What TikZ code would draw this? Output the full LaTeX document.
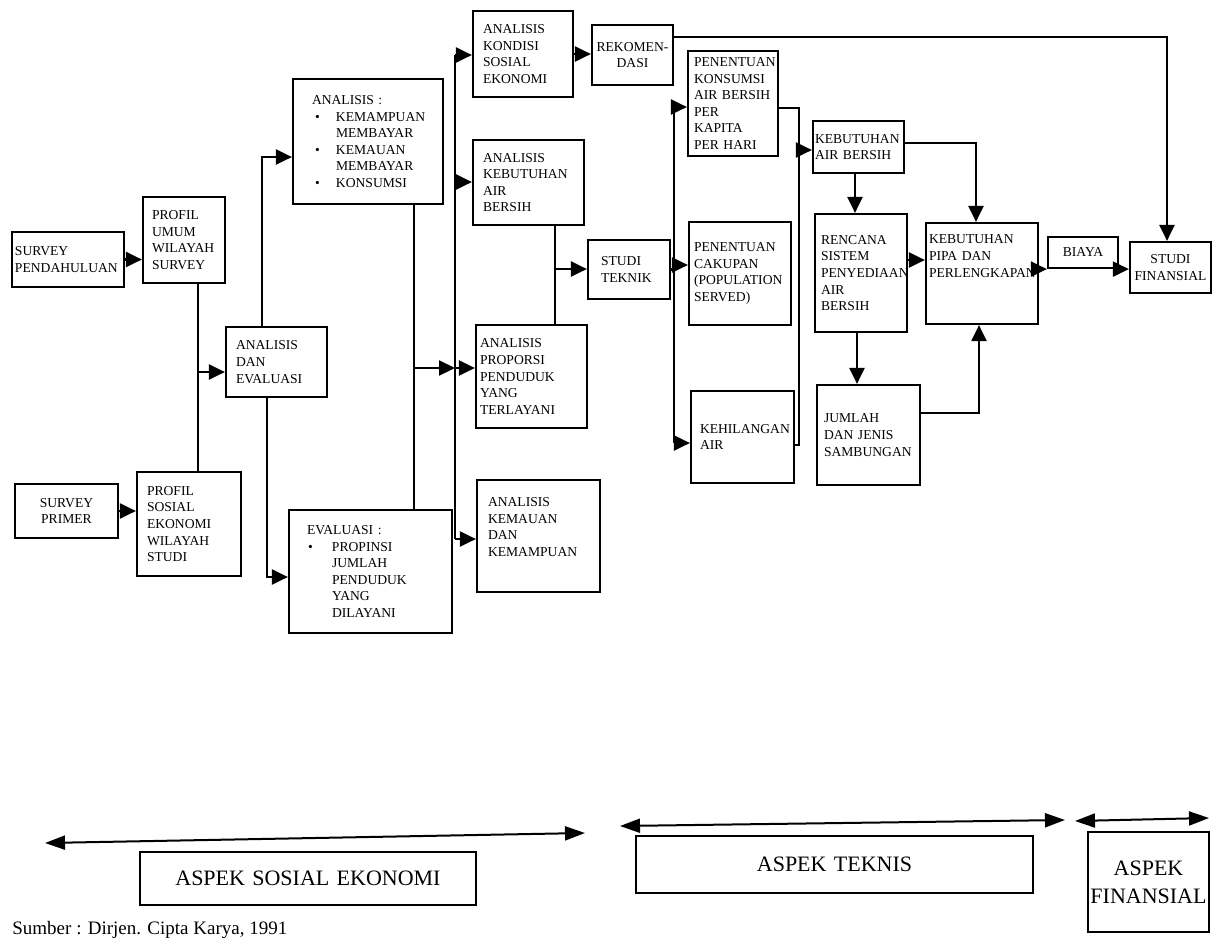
\documentclass[tikz,border=0pt]{standalone}
\usepackage{fontspec}
\setmainfont{Liberation Serif}
\usetikzlibrary{arrows.meta}
\lefthyphenmin=64
\newcommand\mybox[8]{%
 \pgfmathsetmacro\bw{(#5-#3)*0.5}%
 \pgfmathsetmacro\bh{(#6-#4)*0.5}%
 \pgfmathsetmacro\tw{(#5-#3)*0.5-2*#2}%
 \node[box,inner xsep=#2pt,minimum width=\bw pt,minimum height=\bh pt,text width=\tw pt,#7] (#1) at ({(#3+#5)/2},{(#4+#6)/2}) {#8};}
\begin{document}
\begin{tikzpicture}[x=0.5pt,y=-0.5pt,
  box/.style={draw, line width=1.1pt, inner ysep=1pt, font=\fontsize{6.8}{8.3}\selectfont, align=left},
  ln/.style={line width=1.1pt},
  arr/.style={line width=1.1pt, -{Triangle[length=8pt,width=7.5pt]}},
  darr/.style={line width=1pt, {Triangle[length=10pt,width=7pt]}-{Triangle[length=10pt,width=7pt]}},
  big/.style={font=\fontsize{11}{14}\selectfont, align=center, line width=0.8pt}]
\fill[white] (0,0) rectangle (1212,938);
\useasboundingbox (0,0) rectangle (1212,938);

% boxes
\mybox{sp}{1.5}{12}{232}{124}{287}{}{SURVEY\\PENDAHULUAN}
\mybox{pu}{4.5}{143}{197}{225}{283}{}{PROFIL\\UMUM\\WILAYAH\\SURVEY}
\mybox{ae}{5}{226}{327}{327}{397}{}{ANALISIS\\DAN\\EVALUASI}
\mybox{sprim}{2}{15}{484}{118}{538}{align=center}{SURVEY\\PRIMER}
\mybox{ps}{5}{137}{472}{241}{576}{}{PROFIL\\SOSIAL\\EKONOMI\\WILAYAH\\STUDI}
\mybox{an}{2}{293}{79}{443}{204}{}{\hspace*{7.5pt}ANALISIS~:\\
\hspace*{9pt}\makebox[10.5pt][l]{\textbullet}KEMAMPUAN\\
\hspace*{19.5pt}MEMBAYAR\\
\hspace*{9pt}\makebox[10.5pt][l]{\textbullet}KEMAUAN\\
\hspace*{19.5pt}MEMBAYAR\\
\hspace*{9pt}\makebox[10.5pt][l]{\textbullet}KONSUMSI}
\mybox{ev}{2}{289}{510}{452}{633}{}{\hspace*{7pt}EVALUASI~:\\
\hspace*{7.5pt}\makebox[12pt][l]{\textbullet}PROPINSI\\
\hspace*{19.5pt}JUMLAH\\
\hspace*{19.5pt}PENDUDUK\\
\hspace*{19.5pt}YANG\\
\hspace*{19.5pt}DILAYANI}
\mybox{ko}{5}{473}{11}{573}{97}{}{ANALISIS\\KONDISI\\SOSIAL\\EKONOMI}
\mybox{kb}{5}{473}{140}{584}{225}{}{ANALISIS\\KEBUTUHAN\\AIR\\BERSIH}
\mybox{pr}{2}{476}{325}{587}{428}{}{ANALISIS\\PROPORSI\\PENDUDUK\\YANG\\TERLAYANI}
\mybox{km}{5.5}{477}{480}{600}{592}{}{ANALISIS\\KEMAUAN\\DAN\\KEMAMPUAN\\[0.7pt]\mbox{}}
\mybox{st}{6.5}{588}{240}{670}{299}{}{STUDI\\TEKNIK}
\mybox{rk}{0.5}{592}{25}{673}{85}{align=center}{REKOMEN-\\DASI}
\mybox{kk}{3}{688}{51}{778}{156}{}{PENENTUAN\\KONSUMSI\\AIR~BERSIH\\PER\\KAPITA\\PER~HARI}
\mybox{ck}{2.5}{689}{222}{791}{325}{}{PENENTUAN\\CAKUPAN\\(POPULATION\\SERVED)}
\mybox{kh}{4.5}{691}{391}{794}{483}{}{KEHILANGAN\\AIR}
\mybox{kab}{1}{813}{121}{904}{173}{}{KEBUTUHAN\\AIR~BERSIH}
\mybox{rs}{3}{815}{214}{907}{332}{}{RENCANA\\SISTEM\\PENYEDIAAN\\AIR\\BERSIH}
\mybox{js}{3.5}{817}{385}{920}{485}{}{JUMLAH\\DAN~JENIS\\SAMBUNGAN}
\mybox{kp}{1.5}{926}{223}{1038}{324}{}{KEBUTUHAN\\PIPA~DAN\\PERLENGKAPAN\\[9.2pt]\mbox{}}
\mybox{by}{1}{1048}{237}{1118}{268}{align=center}{BIAYA}
\mybox{sf}{1}{1130}{242}{1211}{293}{align=center}{STUDI\\FINANSIAL}

% connectors
\draw[arr] (sp.east) -- (sp.east -| pu.west);
\coordinate (j1) at (198,372);
\draw[ln] (pu.south -| j1) -- (ps.north -| j1);
\draw[arr] (j1) -- (j1 -| ae.west);
\draw[arr] (sprim.east) -- (sprim.east -| ps.west);
\coordinate (j2) at (262,157);
\draw[arr] (ae.north -| j2) |- (an.west |- j2);
\coordinate (j3) at (267,577);
\draw[arr] (ae.south -| j3) |- (ev.west |- j3);
\coordinate (j4) at (414,368);
\coordinate (b1) at (455,368);
\draw[ln] (an.south -| j4) -- (ev.north -| j4);
\draw[arr] (j4) -- (b1);
\coordinate (b1t) at (455,55);
\coordinate (b1k) at (455,182);
\coordinate (b1b) at (455,539);
\draw[ln] (b1t) -- (b1b);
\draw[arr] (b1t) -- (b1t -| ko.west);
\draw[arr] (b1k) -- (b1k -| kb.west);
\draw[arr] (b1) -- (b1 -| pr.west);
\draw[arr] (b1b) -- (b1b -| km.west);
\coordinate (j5) at (555,269);
\draw[ln] (kb.south -| j5) -- (pr.north -| j5);
\draw[arr] (j5) -- (j5 -| st.west);
\draw[arr] (ko.east) -- (ko.east -| rk.west);
\coordinate (j6) at (1167,37);
\draw[arr] (rk.east |- j6) -- (j6) -- (j6 |- sf.north);
\coordinate (b2t) at (674,107);
\coordinate (b2c) at (674,265);
\coordinate (b2b) at (674,443);
\draw[ln] (st.east) -- (st.east -| b2t);
\draw[ln] (b2t) -- (b2b);
\draw[arr] (b2t) -- (b2t -| kk.west);
\draw[arr] (b2c) -- (b2c -| ck.west);
\draw[arr] (b2b) -- (b2b -| kh.west);
\coordinate (b3t) at (799,108);
\coordinate (b3k) at (799,150);
\coordinate (b3b) at (799,445);
\draw[ln] (kk.east |- b3t) -- (b3t) -- (b3b) -- (kh.east |- b3b);
\draw[arr] (b3k) -- (b3k -| kab.west);
\coordinate (v1) at (855,180);
\draw[arr] (kab.south -| v1) -- (rs.north -| v1);
\coordinate (v2) at (857,350);
\draw[arr] (rs.south -| v2) -- (js.north -| v2);
\coordinate (h1) at (910,260);
\draw[arr] (rs.east |- h1) -- (kp.west |- h1);
\coordinate (c1) at (976,143);
\draw[arr] (kab.east |- c1) -- (c1) -- (c1 |- kp.north);
\coordinate (c2) at (979,413);
\draw[arr] (js.east |- c2) -- (c2) -- (c2 |- kp.south);
\draw[arr] (kp.east |- by.south west) -- (by.south west);
\draw[arr] (by.south east) -- (by.south east -| sf.west);

% bottom aspects
\coordinate (a1l) at (45,843); \coordinate (a1r) at (585,833);
\coordinate (a2l) at (620,826); \coordinate (a2r) at (1065,820);
\coordinate (a3l) at (1075,821); \coordinate (a3r) at (1209,818);
\draw[darr] (a1l) -- (a1r);
\draw[darr] (a2l) -- (a2r);
\draw[darr] (a3l) -- (a3r);
\mybox{as1}{2}{140}{852}{476}{905}{big}{ASPEK SOSIAL EKONOMI}
\mybox{as2}{2}{636}{836}{1033}{893}{big}{ASPEK TEKNIS}
\mybox{as3}{1}{1088}{832}{1209}{932}{big}{ASPEK\\FINANSIAL}
\node[anchor=base west, font=\fontsize{9.5}{11}\selectfont, inner sep=0pt] (src) at (12,934) {Sumber : Dirjen. Cipta Karya, 1991};
\end{tikzpicture}
\end{document}
